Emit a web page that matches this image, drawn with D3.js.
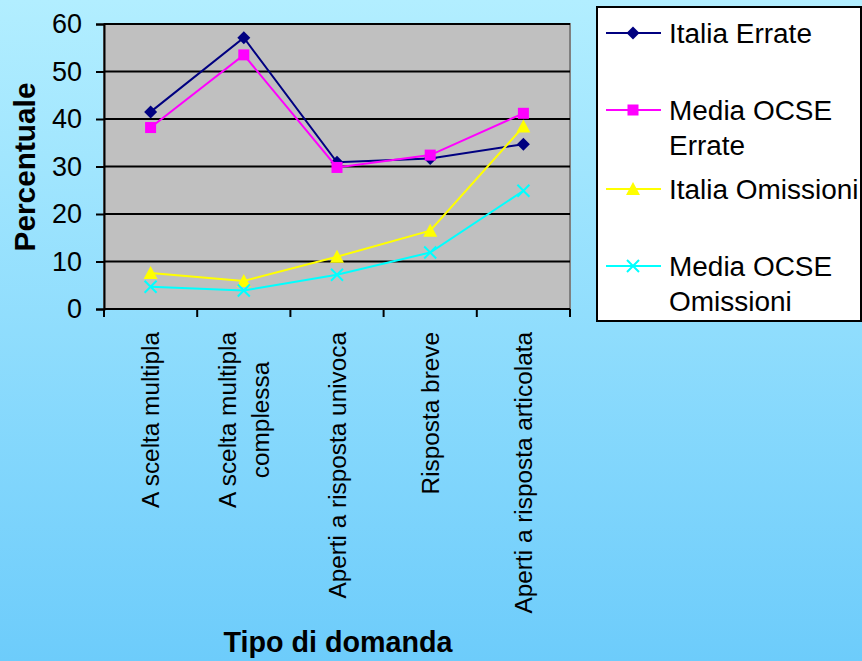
<!DOCTYPE html>
<html><head><meta charset="utf-8">
<script src="https://cdn.jsdelivr.net/npm/d3@7"></script>
<style>body{margin:0;padding:0;overflow:hidden}svg{display:block}</style>
</head><body>
<script>
const categories = [["A scelta multipla"],["A scelta multipla","complessa"],["Aperti a risposta univoca"],["Risposta breve"],["Aperti a risposta articolata"]];
const italiaErrate = [41.5, 57.1, 30.9, 31.7, 34.7];
const ocseErrate = [38.2, 53.5, 29.8, 32.4, 41.2];
const italiaOmissioni = [7.6, 5.9, 11.0, 16.5, 38.4];
const ocseOmissioni = [4.7, 3.9, 7.2, 11.9, 24.9];
const yTicks = [0,10,20,30,40,50,60];
const seriesNames = [["Italia Errate"],["Media OCSE","Errate"],["Italia Omissioni"],["Media OCSE","Omissioni"]];

const series = [
  {name: seriesNames[0], values: italiaErrate, color: "#000080", marker: "diamond"},
  {name: seriesNames[1], values: ocseErrate, color: "#ff00ff", marker: "square"},
  {name: seriesNames[2], values: italiaOmissioni, color: "#ffff00", marker: "triangle"},
  {name: seriesNames[3], values: ocseOmissioni, color: "#00ffff", marker: "x"}
];

const W = 862, H = 661;
const svg = d3.select("body").append("svg").attr("width", W).attr("height", H);
const defs = svg.append("defs");
const grad = defs.append("linearGradient").attr("id","bg").attr("x1",0).attr("y1",0).attr("x2",0).attr("y2",1);
grad.append("stop").attr("offset","0%").attr("stop-color","#b2eeff");
grad.append("stop").attr("offset","100%").attr("stop-color","#6dccfb");
svg.append("rect").attr("width",W).attr("height",H).attr("fill","url(#bg)");

const FONT = "Arial, 'Liberation Sans', sans-serif";
// measure font size needed so that sample text has target width
function fitSize(sample, targetW, bold) {
  const t = svg.append("text").text(sample).attr("font-family",FONT).attr("font-size",100)
    .attr("font-weight", bold ? "bold" : "normal");
  const w = t.node().getComputedTextLength();
  t.remove();
  return 100 * targetW / w;
}
const fsTick = fitSize("60", 30, false);
const fsCat = fitSize("A scelta multipla", 176, false);
const fsLeg = fitSize("Italia Errate", 143, false);
const fsYT = fitSize("Percentuale", 169, true);
const fsXT = fitSize("Tipo di domanda", 229, true);

const pL = 104, pR = 570, pT = 24, pB = 309;
const x = d3.scaleBand().domain(d3.range(categories.length)).range([pL, pR]);
const y = d3.scaleLinear().domain([0, 60]).range([pB, pT]);

// plot area
svg.append("rect").attr("x", pL).attr("y", pT).attr("width", pR-pL).attr("height", pB-pT)
  .attr("fill","#c0c0c0").attr("stroke","#808080").attr("stroke-width",2);

// gridlines
svg.append("g").selectAll("line").data(yTicks.filter(d=>d>0)).join("line")
  .attr("x1", pL).attr("x2", pR).attr("y1", d=>y(d)).attr("y2", d=>y(d))
  .attr("stroke","#000").attr("stroke-width",2);

// y axis
const yAxis = svg.append("g").attr("transform",`translate(${pL},0)`)
  .call(d3.axisLeft(y).tickValues(yTicks).tickSize(8).tickPadding(14));
yAxis.select(".domain").attr("stroke","#000").attr("stroke-width",2);
yAxis.selectAll(".tick line").attr("stroke","#000").attr("stroke-width",2);
yAxis.selectAll(".tick text").attr("font-family",FONT).attr("font-size",fsTick).attr("fill","#000");

// x axis
const xAxis = svg.append("g").attr("transform",`translate(0,${pB})`);
xAxis.append("line").attr("x1",pL).attr("x2",pR).attr("y1",0).attr("y2",0).attr("stroke","#000").attr("stroke-width",2);
const bounds = d3.range(categories.length+1).map(i => i < categories.length ? x(i) : pR);
xAxis.selectAll("line.tk").data(bounds).join("line").attr("class","tk")
  .attr("x1",d=>d).attr("x2",d=>d).attr("y1",0).attr("y2",8).attr("stroke","#000").attr("stroke-width",2);

// x labels
const labelTop = 332, lineGap = 33;
categories.forEach((lines, i) => {
  const cx = x(i) + x.bandwidth()/2;
  const g = svg.append("g");
  const texts = lines.map((t, j) => {
    const off = (j - (lines.length-1)/2) * lineGap;
    return g.append("text").text(t).attr("font-family",FONT).attr("font-size",fsCat).attr("fill","#000")
      .attr("text-anchor","middle").attr("dominant-baseline","central")
      .datum({off});
  });
  const maxLen = d3.max(texts, t => t.node().getComputedTextLength());
  const cy = labelTop + maxLen/2;
  texts.forEach(t => {
    const off = t.datum().off;
    t.attr("transform", `translate(${cx+off},${cy}) rotate(-90)`);
  });
});

// axis titles
svg.append("text").text("Percentuale").attr("font-family",FONT).attr("font-weight","bold").attr("font-size",fsYT)
  .attr("text-anchor","middle").attr("dominant-baseline","central")
  .attr("transform","translate(24,167) rotate(-90)");
svg.append("text").text("Tipo di domanda").attr("font-family",FONT).attr("font-weight","bold").attr("font-size",fsXT)
  .attr("text-anchor","middle").attr("x",338).attr("y",652);

// marker drawer
function drawMarker(g, type, color, cx, cy) {
  if (type === "diamond") {
    g.append("path").attr("d", `M${cx},${cy-6.5}L${cx+6.5},${cy}L${cx},${cy+6.5}L${cx-6.5},${cy}Z`).attr("fill",color);
  } else if (type === "square") {
    g.append("rect").attr("x",cx-5.5).attr("y",cy-5.5).attr("width",11).attr("height",11).attr("fill",color);
  } else if (type === "triangle") {
    g.append("path").attr("d", `M${cx},${cy-7}L${cx+7},${cy+6}L${cx-7},${cy+6}Z`).attr("fill",color);
  } else {
    g.append("path").attr("d", `M${cx-6},${cy-6}L${cx+6},${cy+6}M${cx-6},${cy+6}L${cx+6},${cy-6}`)
      .attr("stroke",color).attr("stroke-width",2).attr("fill","none");
  }
}

const line = d3.line().x((d,i)=>x(i)+x.bandwidth()/2).y(d=>y(d));
series.forEach(s => {
  const g = svg.append("g");
  g.append("path").datum(s.values).attr("d", line).attr("fill","none").attr("stroke",s.color).attr("stroke-width",2);
  s.values.forEach((v,i) => drawMarker(g, s.marker, s.color, x(i)+x.bandwidth()/2, y(v)));
});

// legend
const lg = svg.append("g");
lg.append("rect").attr("x",597).attr("y",7).attr("width",264).attr("height",314)
  .attr("fill","#fff").attr("stroke","#000").attr("stroke-width",2);
const legendRows = [33, 110, 189, 266];
series.forEach((s, i) => {
  const cy = legendRows[i];
  lg.append("line").attr("x1",606).attr("x2",661).attr("y1",cy).attr("y2",cy).attr("stroke",s.color).attr("stroke-width",2);
  drawMarker(lg, s.marker, s.color, 633, cy);
  s.name.forEach((t, j) => {
    lg.append("text").text(t).attr("x",669).attr("y",cy + j*35).attr("dominant-baseline","central")
      .attr("font-family",FONT).attr("font-size",fsLeg).attr("fill","#000");
  });
});
</script>
</body></html>
